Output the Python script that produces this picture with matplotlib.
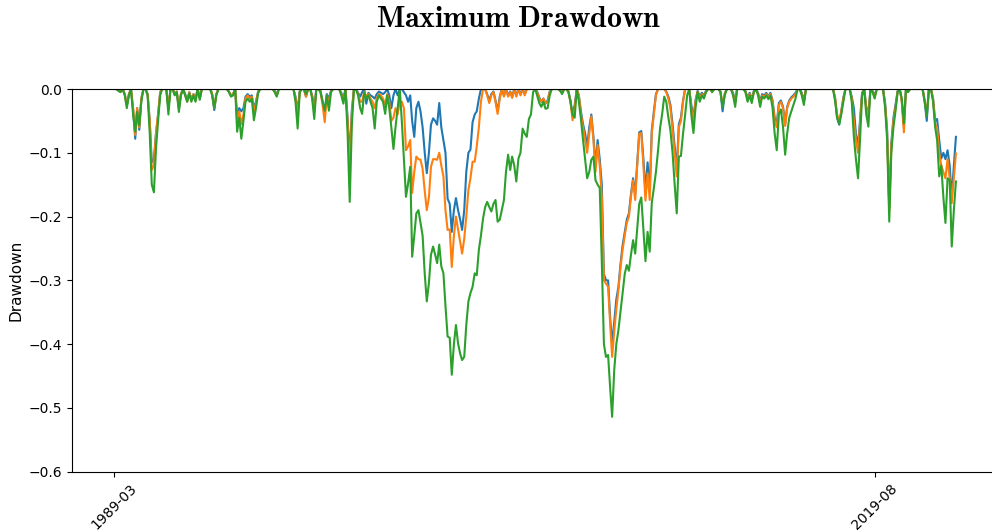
import numpy as np
import pandas as pd
import matplotlib
matplotlib.use("Agg")
import matplotlib.pyplot as plt

plt.rcParams['mathtext.fontset'] = 'cm'

# monthly drawdown series, starting 1989-03 (12 months per row)
start_month = '1989-03-31'

dd_blue = [
    0, 0, -0.002, -0.004, 0, -0.008, -0.025, -0.008, 0, -0.032, -0.078, -0.03,
    -0.064, -0.015, 0, 0, -0.008, -0.05, -0.115, -0.11, -0.07, -0.04, -0.005, 0,
    0, 0, -0.03, 0, 0, -0.008, -0.004, -0.03, -0.008, 0, -0.008, -0.018,
    -0.005, -0.016, -0.008, -0.016, 0, -0.014, 0, 0, 0, 0, 0, -0.008,
    -0.033, -0.008, 0, 0, 0, 0, 0, -0.004, -0.01, -0.008, 0, -0.04,
    -0.03, -0.035, -0.03, -0.012, -0.008, -0.012, -0.01, -0.03, -0.02, -0.004, 0, 0,
    0, 0, 0, 0, 0, -0.003, -0.008, 0, 0, 0, 0, 0,
    0, 0, 0, -0.012, -0.035, -0.003, 0, 0, -0.012, 0, 0, -0.01,
    -0.03, 0, 0, -0.003, -0.02, -0.035, -0.008, -0.015, -0.003, 0, 0, 0,
    0, -0.006, -0.015, 0, -0.045, -0.11, -0.035, 0, 0, -0.006, -0.012, -0.005,
    0, -0.023, -0.006, -0.01, -0.012, -0.015, -0.008, -0.004, -0.006, -0.008, -0.005, 0,
    -0.01, -0.03, -0.01, 0, -0.01, 0, 0, -0.005, -0.01, -0.02, -0.01, -0.05,
    -0.075, -0.03, -0.02, -0.035, -0.06, -0.1, -0.132, -0.1, -0.056, -0.046, -0.05, -0.056,
    -0.022, -0.06, -0.08, -0.1, -0.172, -0.18, -0.224, -0.19, -0.171, -0.19, -0.205, -0.221,
    -0.19, -0.13, -0.1, -0.095, -0.052, -0.04, -0.035, -0.015, 0, 0, 0, -0.008,
    -0.018, -0.008, -0.004, -0.018, -0.035, -0.012, 0, -0.01, 0, -0.01, -0.004, -0.012,
    0, -0.01, 0, -0.008, 0, -0.008, 0, 0, 0, 0, 0, -0.004,
    -0.013, -0.02, -0.015, -0.023, -0.018, -0.004, 0, 0, 0, 0, -0.002, -0.005,
    0, 0, -0.003, -0.018, -0.04, -0.025, 0, -0.01, -0.035, -0.055, -0.07, -0.09,
    -0.06, -0.04, -0.075, -0.12, -0.08, -0.11, -0.15, -0.29, -0.30, -0.30, -0.36, -0.40,
    -0.365, -0.33, -0.31, -0.275, -0.245, -0.225, -0.205, -0.195, -0.165, -0.14, -0.165, -0.118,
    -0.068, -0.066, -0.11, -0.16, -0.115, -0.16, -0.065, -0.035, -0.008, 0, 0, 0,
    0, -0.004, -0.012, -0.025, -0.055, -0.09, -0.125, -0.055, -0.045, -0.018, 0, 0,
    0, -0.025, -0.045, -0.018, -0.003, -0.012, -0.006, -0.01, -0.003, 0, 0, -0.003,
    0, 0, 0, -0.004, -0.035, -0.008, 0, 0, 0, -0.006, -0.02, 0,
    0, 0, 0, -0.003, -0.014, -0.006, -0.016, -0.003, 0, -0.006, -0.02, -0.008,
    -0.01, -0.006, -0.012, -0.006, -0.018, -0.045, -0.055, -0.022, -0.018, -0.028, -0.055, -0.028,
    -0.018, -0.013, -0.01, -0.006, 0, 0, -0.006, -0.018, 0, 0, 0, 0,
    0, 0, 0, 0, 0, 0, 0, 0, 0, 0, -0.015, -0.045,
    -0.056, -0.035, -0.013, 0, 0, 0, -0.012, -0.03, -0.07, -0.09, -0.045, -0.006,
    0, -0.028, -0.04, 0, -0.003, -0.01, 0, 0, 0, 0, -0.022, -0.065,
    -0.185, -0.085, -0.045, -0.025, -0.003, 0, -0.018, -0.06, 0, -0.003, 0, 0,
    0, 0, 0, 0, 0, -0.02, -0.05, 0, 0, -0.015, -0.05, -0.047,
    -0.08, -0.109, -0.1, -0.11, -0.096, -0.12, -0.17, -0.12, -0.075,
]

dd_orange = [
    0, 0, -0.002, -0.004, 0, -0.008, -0.025, -0.008, 0, -0.03, -0.072, -0.03,
    -0.06, -0.015, 0, 0, -0.008, -0.05, -0.127, -0.12, -0.07, -0.04, -0.005, 0,
    0, 0, -0.03, 0, 0, -0.008, -0.004, -0.03, -0.008, 0, -0.01, -0.02,
    -0.005, -0.018, -0.008, -0.018, 0, -0.015, 0, 0, 0, 0, 0, -0.008,
    -0.03, -0.008, 0, 0, 0, 0, 0, -0.004, -0.01, -0.008, 0, -0.05,
    -0.035, -0.055, -0.04, -0.015, -0.01, -0.015, -0.012, -0.035, -0.022, -0.005, 0, 0,
    0, 0, 0, 0, 0, -0.004, -0.01, 0, 0, 0, 0, 0,
    0, 0, 0, -0.015, -0.04, -0.004, 0, 0, -0.012, 0, 0, -0.012,
    -0.035, 0, 0, -0.004, -0.025, -0.052, -0.01, -0.02, -0.004, 0, 0, 0,
    0, -0.008, -0.018, 0, -0.05, -0.127, -0.04, 0, 0, -0.008, -0.02, -0.02,
    -0.004, -0.012, -0.008, -0.015, -0.02, -0.03, -0.015, -0.008, -0.01, -0.015, -0.025, -0.008,
    -0.02, -0.05, -0.045, -0.03, -0.04, -0.02, -0.02, -0.03, -0.096, -0.09, -0.08, -0.163,
    -0.13, -0.106, -0.11, -0.111, -0.125, -0.16, -0.19, -0.17, -0.122, -0.11, -0.11, -0.111,
    -0.1, -0.12, -0.137, -0.19, -0.221, -0.22, -0.279, -0.23, -0.2, -0.22, -0.24, -0.258,
    -0.235, -0.2, -0.158, -0.14, -0.114, -0.114, -0.09, -0.06, -0.02, 0, 0, -0.01,
    -0.022, -0.01, -0.005, -0.02, -0.039, -0.015, 0, -0.012, 0, -0.012, -0.005, -0.014,
    0, -0.012, 0, -0.01, 0, -0.01, 0, 0, 0, 0, 0, -0.005,
    -0.015, -0.02, -0.015, -0.022, -0.02, -0.005, 0, 0, 0, 0, -0.002, -0.006,
    0, 0, -0.004, -0.02, -0.049, -0.03, 0, -0.01, -0.04, -0.06, -0.08, -0.1,
    -0.07, -0.043, -0.08, -0.13, -0.088, -0.12, -0.17, -0.30, -0.305, -0.31, -0.37, -0.42,
    -0.38, -0.345, -0.315, -0.28, -0.252, -0.23, -0.21, -0.2, -0.169, -0.143, -0.174, -0.122,
    -0.07, -0.069, -0.12, -0.175, -0.132, -0.174, -0.07, -0.04, -0.01, 0, 0, 0,
    0, -0.005, -0.015, -0.03, -0.064, -0.1, -0.137, -0.06, -0.05, -0.02, 0, 0,
    0, -0.03, -0.05, -0.02, -0.004, -0.015, -0.008, -0.012, -0.004, 0, 0, -0.004,
    0, 0, 0, -0.004, -0.025, -0.008, 0, 0, 0, -0.008, -0.022, 0,
    0, 0, 0, -0.004, -0.016, -0.008, -0.018, -0.004, 0, -0.008, -0.022, -0.01,
    -0.012, -0.008, -0.013, -0.008, -0.02, -0.05, -0.06, -0.025, -0.02, -0.03, -0.058, -0.03,
    -0.02, -0.015, -0.012, -0.008, 0, 0, -0.008, -0.02, 0, 0, 0, 0,
    0, 0, 0, 0, 0, 0, 0, 0, 0, 0, -0.015, -0.04,
    -0.05, -0.035, -0.015, 0, 0, 0, -0.015, -0.05, -0.08, -0.1, -0.05, -0.008,
    0, -0.03, -0.045, 0, -0.004, -0.012, 0, 0, 0, 0, -0.025, -0.07,
    -0.19, -0.09, -0.05, -0.03, -0.004, 0, -0.02, -0.068, 0, -0.004, 0, 0,
    0, 0, 0, 0, 0, -0.018, -0.04, 0, 0, -0.015, -0.055, -0.06,
    -0.1, -0.12, -0.13, -0.14, -0.11, -0.14, -0.179, -0.14, -0.101,
]

dd_green = [
    0, 0, -0.003, -0.005, 0, -0.01, -0.03, -0.01, 0, -0.04, -0.067, -0.036,
    -0.057, -0.02, 0, 0, -0.01, -0.07, -0.15, -0.162, -0.094, -0.05, -0.01, 0,
    0, 0, -0.04, 0, 0, -0.01, -0.005, -0.036, -0.01, 0, -0.01, -0.02,
    -0.007, -0.02, -0.01, -0.02, 0, -0.017, 0, 0, 0, 0, 0, -0.01,
    -0.03, -0.01, 0, 0, 0, 0, 0, -0.005, -0.012, -0.01, 0, -0.067,
    -0.045, -0.078, -0.05, -0.02, -0.015, -0.02, -0.015, -0.049, -0.03, -0.007, 0, 0,
    0, 0, 0, 0, 0, -0.005, -0.012, 0, 0, 0, 0, 0,
    0, 0, 0, -0.02, -0.062, -0.005, 0, 0, -0.008, 0, 0, -0.015,
    -0.047, 0, 0, -0.005, -0.02, -0.034, -0.01, -0.034, -0.005, 0, 0, 0,
    0, -0.01, -0.023, 0, -0.07, -0.177, -0.06, 0, 0, -0.01, -0.03, -0.039,
    -0.005, -0.015, -0.01, -0.02, -0.03, -0.062, -0.02, -0.01, -0.015, -0.02, -0.039, -0.01,
    -0.03, -0.06, -0.094, -0.06, -0.03, 0, -0.05, -0.11, -0.169, -0.148, -0.122, -0.263,
    -0.23, -0.195, -0.19, -0.21, -0.23, -0.29, -0.333, -0.304, -0.26, -0.247, -0.26, -0.273,
    -0.244, -0.278, -0.289, -0.34, -0.388, -0.39, -0.448, -0.40, -0.37, -0.399, -0.415, -0.425,
    -0.42, -0.37, -0.333, -0.32, -0.31, -0.289, -0.292, -0.252, -0.23, -0.203, -0.185, -0.177,
    -0.185, -0.192, -0.18, -0.174, -0.208, -0.205, -0.19, -0.174, -0.13, -0.103, -0.127, -0.106,
    -0.12, -0.145, -0.109, -0.1, -0.062, -0.07, -0.075, -0.047, -0.04, -0.005, 0, -0.01,
    -0.022, -0.028, -0.02, -0.031, -0.03, -0.01, 0, 0, 0, 0, -0.003, -0.008,
    0, 0, -0.005, -0.02, -0.04, -0.045, 0, -0.02, -0.047, -0.08, -0.111, -0.14,
    -0.13, -0.111, -0.106, -0.143, -0.15, -0.155, -0.27, -0.40, -0.42, -0.417, -0.47, -0.514,
    -0.44, -0.40, -0.378, -0.35, -0.32, -0.29, -0.276, -0.285, -0.26, -0.237, -0.258, -0.22,
    -0.18, -0.17, -0.221, -0.27, -0.224, -0.255, -0.179, -0.155, -0.13, -0.096, -0.06, -0.04,
    -0.012, -0.02, -0.045, -0.065, -0.1, -0.15, -0.195, -0.106, -0.105, -0.07, -0.04, -0.01,
    0, -0.04, -0.069, -0.03, -0.005, -0.02, -0.01, -0.015, -0.005, 0, 0, -0.005,
    0, 0, 0, -0.005, -0.028, -0.01, 0, 0, 0, -0.01, -0.028, 0,
    0, 0, 0, -0.005, -0.02, -0.01, -0.022, -0.005, 0, -0.01, -0.028, -0.012,
    -0.015, -0.01, -0.016, -0.01, -0.03, -0.07, -0.096, -0.04, -0.032, -0.06, -0.103, -0.07,
    -0.045, -0.035, -0.025, -0.015, 0, 0, -0.01, -0.025, 0, 0, 0, 0,
    0, 0, 0, 0, 0, 0, 0, 0, 0, 0, -0.02, -0.045,
    -0.055, -0.04, -0.02, 0, 0, 0, -0.02, -0.075, -0.11, -0.14, -0.075, -0.01,
    0, -0.04, -0.059, 0, -0.005, -0.015, 0, 0, 0, 0, -0.03, -0.08,
    -0.208, -0.1, -0.06, -0.035, -0.005, 0, -0.015, -0.054, 0, -0.005, 0, 0,
    0, 0, 0, 0, 0, -0.02, -0.043, 0, 0, -0.02, -0.06, -0.08,
    -0.137, -0.12, -0.17, -0.21, -0.14, -0.143, -0.247, -0.19, -0.145,
]

dates = pd.date_range(start_month, periods=len(dd_green), freq='ME')

fig = plt.figure(figsize=(9.92, 5.32), dpi=100)
# axes run slightly past the right edge of the canvas
ax = fig.add_axes([72.2 / 992, 60.3 / 532, 925.8 / 992, 382.7 / 532])

ax.plot(dates, dd_blue, color='#1f77b4', lw=1.5)
ax.plot(dates, dd_orange, color='#ff7f0e', lw=1.5)
ax.plot(dates, dd_green, color='#2ca02c', lw=1.5)

ax.set_ylim(-0.6, 0.0)
ax.set_yticks([0.0, -0.1, -0.2, -0.3, -0.4, -0.5, -0.6])
ax.set_ylabel('Drawdown', fontsize=11)

tick_dates = dates[::365]
ax.set_xticks(tick_dates)
ax.set_xticklabels([d.strftime('%Y-%m') for d in tick_dates], rotation=45)

fig.text(519 / 992, 505 / 532, r'$\mathbf{Maximum\ Drawdown}$',
         ha='center', va='baseline', fontsize=21.5)

fig.savefig('out.png', dpi=100)
